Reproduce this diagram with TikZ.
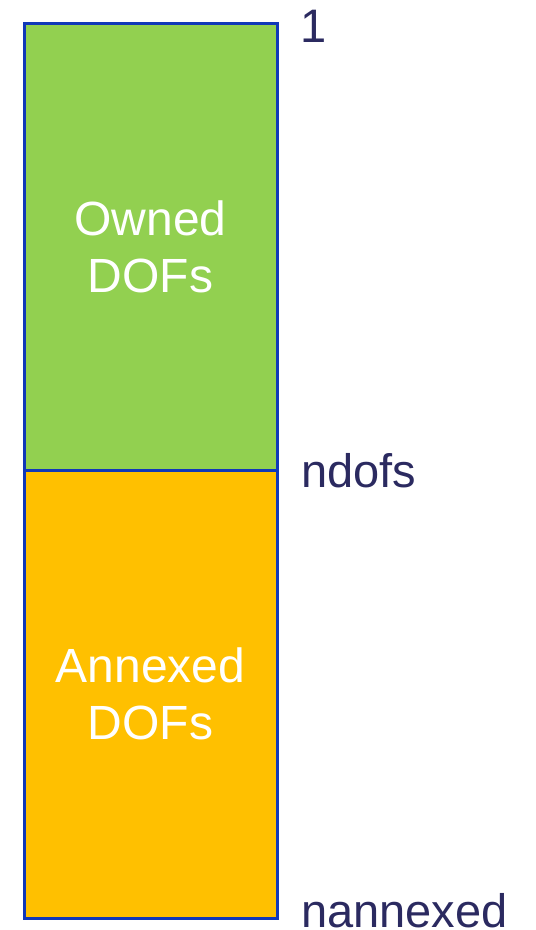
\documentclass[tikz,border=0pt]{standalone}
\usepackage{fontspec}
\setmainfont{Liberation Sans}
\usepackage{tikz}
\usetikzlibrary{positioning}
\definecolor{mygreen}{RGB}{146,208,80}
\definecolor{myorange}{RGB}{255,192,0}
\definecolor{myblue}{RGB}{16,56,184}
\definecolor{mynavy}{RGB}{43,42,96}
\tikzstyle{block}=[draw=myblue,line width=3pt,minimum width=253pt,inner sep=0pt,outer sep=0pt,text=white,align=center,font=\fontsize{48}{57}\selectfont]
\tikzstyle{idx}=[text=mynavy,anchor=base west,inner sep=0pt,outer sep=0pt,font=\fontsize{47}{56}\selectfont]

\begin{document}
\begin{tikzpicture}[x=1pt,y=-1pt]
\useasboundingbox (0,0) rectangle (536,930);
\draw (150.5,246.5) node [block, fill=mygreen, minimum height=447pt] (owned) {Owned\\DOFs};
\draw (150.5,694) node [block, fill=myorange, minimum height=448pt] (annexed) {Annexed\\DOFs};
\node [idx] (first) at (300,42) {1};
\node [idx] (ndofs) at (301,487) {ndofs};
\node [idx] (nannexed) at (301,927) {nannexed};
\end{tikzpicture}
\end{document}
